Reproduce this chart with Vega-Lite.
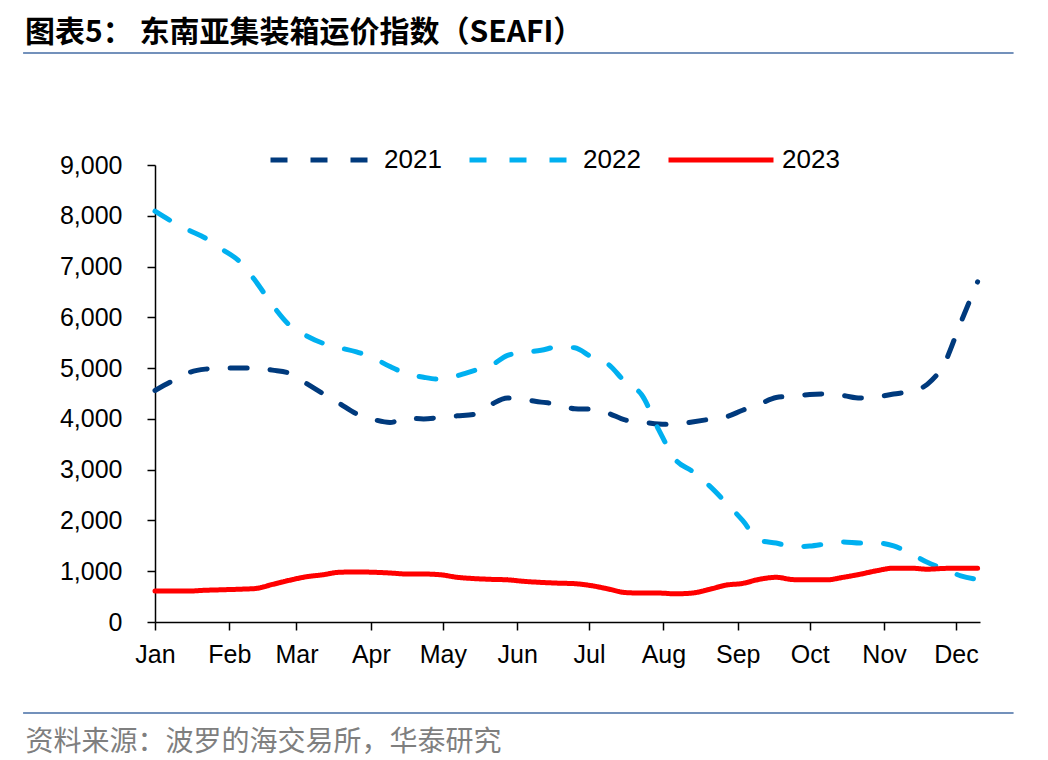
{
  "$schema": "https://vega.github.io/schema/vega-lite/v6.json",
  "autosize": "none",
  "width": 825,
  "height": 457,
  "padding": {"left": 155, "top": 165, "right": 68, "bottom": 138},
  "background": "white",
  "config": {
    "view": {"stroke": null},
    "font": "Liberation Sans"
  },
  "title": {
    "text": "图表5：  东南亚集装箱运价指数（SEAFI）",
    "anchor": "start",
    "frame": "group",
    "dx": -130,
    "offset": 4,
    "font": "Noto Sans CJK SC",
    "fontSize": 30,
    "fontWeight": "bold",
    "color": "black"
  },
  "layer": [
    {
      "data": {
        "values": [
          {"d": "2023-01-01", "2021": 4560, "2022": 8090, "2023": 610},
          {"d": "2023-01-08", "2021": 4740, "2022": 7890, "2023": 610},
          {"d": "2023-01-15", "2021": 4910, "2022": 7720, "2023": 610},
          {"d": "2023-01-22", "2021": 4980, "2022": 7560, "2023": 625},
          {"d": "2023-01-29", "2021": 5000, "2022": 7340, "2023": 635},
          {"d": "2023-02-05", "2021": 5000, "2022": 7110, "2023": 645},
          {"d": "2023-02-12", "2021": 5000, "2022": 6710, "2023": 660},
          {"d": "2023-02-19", "2021": 4960, "2022": 6240, "2023": 740},
          {"d": "2023-02-26", "2021": 4900, "2022": 5850, "2023": 820},
          {"d": "2023-03-05", "2021": 4700, "2022": 5640, "2023": 890},
          {"d": "2023-03-12", "2021": 4500, "2022": 5490, "2023": 930},
          {"d": "2023-03-19", "2021": 4300, "2022": 5400, "2023": 980},
          {"d": "2023-03-26", "2021": 4100, "2022": 5320, "2023": 985},
          {"d": "2023-04-02", "2021": 3990, "2022": 5200, "2023": 980},
          {"d": "2023-04-09", "2021": 3930, "2022": 5030, "2023": 965},
          {"d": "2023-04-16", "2021": 4020, "2022": 4890, "2023": 945},
          {"d": "2023-04-23", "2021": 4000, "2022": 4820, "2023": 945},
          {"d": "2023-04-30", "2021": 4030, "2022": 4780, "2023": 930},
          {"d": "2023-05-07", "2021": 4060, "2022": 4850, "2023": 880},
          {"d": "2023-05-14", "2021": 4090, "2022": 4950, "2023": 855},
          {"d": "2023-05-21", "2021": 4280, "2022": 5050, "2023": 840},
          {"d": "2023-05-28", "2021": 4410, "2022": 5250, "2023": 830},
          {"d": "2023-06-04", "2021": 4380, "2022": 5310, "2023": 800},
          {"d": "2023-06-11", "2021": 4330, "2022": 5350, "2023": 780},
          {"d": "2023-06-18", "2021": 4290, "2022": 5420, "2023": 765},
          {"d": "2023-06-25", "2021": 4200, "2022": 5400, "2023": 755},
          {"d": "2023-07-02", "2021": 4190, "2022": 5220, "2023": 715},
          {"d": "2023-07-09", "2021": 4110, "2022": 5075, "2023": 650},
          {"d": "2023-07-16", "2021": 3980, "2022": 4730, "2023": 580},
          {"d": "2023-07-23", "2021": 3940, "2022": 4470, "2023": 570},
          {"d": "2023-07-30", "2021": 3900, "2022": 3790, "2023": 570},
          {"d": "2023-08-06", "2021": 3890, "2022": 3200, "2023": 555},
          {"d": "2023-08-13", "2021": 3940, "2022": 2970, "2023": 570},
          {"d": "2023-08-20", "2021": 3990, "2022": 2690, "2023": 640},
          {"d": "2023-08-27", "2021": 4040, "2022": 2355, "2023": 725},
          {"d": "2023-09-03", "2021": 4170, "2022": 2000, "2023": 760},
          {"d": "2023-09-10", "2021": 4290, "2022": 1610, "2023": 840},
          {"d": "2023-09-17", "2021": 4420, "2022": 1555, "2023": 880},
          {"d": "2023-09-24", "2021": 4450, "2022": 1485, "2023": 835},
          {"d": "2023-10-01", "2021": 4480, "2022": 1495, "2023": 830},
          {"d": "2023-10-08", "2021": 4490, "2022": 1540, "2023": 830},
          {"d": "2023-10-15", "2021": 4460, "2022": 1575, "2023": 880},
          {"d": "2023-10-22", "2021": 4410, "2022": 1555, "2023": 940},
          {"d": "2023-10-29", "2021": 4430, "2022": 1555, "2023": 1010},
          {"d": "2023-11-05", "2021": 4490, "2022": 1500, "2023": 1060},
          {"d": "2023-11-12", "2021": 4540, "2022": 1350, "2023": 1060},
          {"d": "2023-11-19", "2021": 4680, "2022": 1175, "2023": 1040},
          {"d": "2023-11-26", "2021": 5080, "2022": 1040, "2023": 1055},
          {"d": "2023-12-03", "2021": 5900, "2022": 910, "2023": 1060},
          {"d": "2023-12-10", "2021": 6700, "2022": 835, "2023": 1060}
        ]
      },
      "transform": [
        {"fold": ["2021", "2022", "2023"], "as": ["year", "value"]}
      ],
      "mark": {
        "type": "line",
        "strokeWidth": 5,
        "strokeCap": "round",
        "interpolate": "monotone"
      },
      "encoding": {
        "x": {
          "field": "d",
          "type": "temporal",
          "scale": {"domain": ["2023-01-01", "2023-12-11"]},
          "axis": {
            "format": "%b",
            "tickCount": {"interval": "month", "step": 1},
            "grid": false,
            "domainColor": "black",
            "domainWidth": 1.5,
            "tickColor": "black",
            "tickWidth": 1.5,
            "tickSize": 8,
            "labelFontSize": 25,
            "labelColor": "black",
            "labelPadding": 12,
            "labelFlush": false,
            "title": "资料来源：波罗的海交易所，华泰研究",
            "titleFont": "Noto Sans CJK SC",
            "titleFontSize": 28,
            "titleFontWeight": "normal",
            "titleColor": "#7f7f7f",
            "titleAlign": "left",
            "titleBaseline": "middle",
            "titleX": -130,
            "titleY": 120
          }
        },
        "y": {
          "field": "value",
          "type": "quantitative",
          "scale": {"domain": [0, 9000], "nice": false},
          "axis": {
            "values": [0, 1000, 2000, 3000, 4000, 5000, 6000, 7000, 8000, 9000],
            "format": ",d",
            "grid": false,
            "domainColor": "black",
            "domainWidth": 1.5,
            "tickColor": "black",
            "tickWidth": 1.5,
            "tickSize": 8,
            "labelFontSize": 25,
            "labelColor": "black",
            "labelPadding": 25,
            "title": null
          }
        },
        "color": {
          "field": "year",
          "type": "nominal",
          "scale": {
            "domain": ["2021", "2022", "2023"],
            "range": ["#003a7d", "#00b0f0", "#ff0000"]
          },
          "legend": {
            "orient": "none",
            "direction": "horizontal",
            "legendX": 113,
            "legendY": -60,
            "title": null,
            "symbolType": "stroke",
            "symbolSize": 11025,
            "symbolStrokeWidth": 5,
            "labelFontSize": 26,
            "labelColor": "black",
            "labelOffset": 6,
            "columnPadding": 17
          }
        },
        "strokeDash": {
          "field": "year",
          "type": "nominal",
          "scale": {
            "domain": ["2021", "2022", "2023"],
            "range": [[17, 23], [17, 23], [1, 0]]
          },
          "legend": {
            "orient": "none",
            "direction": "horizontal",
            "legendX": 113,
            "legendY": -60,
            "title": null,
            "symbolType": "stroke",
            "symbolSize": 11025,
            "symbolStrokeWidth": 5,
            "labelFontSize": 26,
            "labelColor": "black",
            "labelOffset": 6,
            "columnPadding": 17
          }
        }
      }
    },
    {
      "data": {"values": [{}]},
      "mark": {"type": "rule", "color": "#7391bb", "strokeWidth": 2, "clip": false},
      "encoding": {
        "x": {"datum": {"year": 2022, "month": 11, "date": 7}, "type": "temporal"},
        "x2": {"datum": {"year": 2023, "month": 12, "date": 25}},
        "y": {"datum": 11205, "type": "quantitative"}
      }
    },
    {
      "data": {"values": [{}]},
      "mark": {"type": "rule", "color": "#7391bb", "strokeWidth": 2, "clip": false},
      "encoding": {
        "x": {"datum": {"year": 2022, "month": 11, "date": 7}, "type": "temporal"},
        "x2": {"datum": {"year": 2023, "month": 12, "date": 25}},
        "y": {"datum": -1792, "type": "quantitative"}
      }
    }
  ]
}
